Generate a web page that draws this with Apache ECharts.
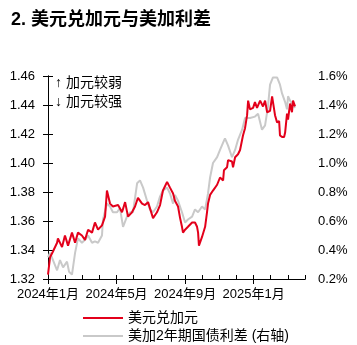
<!DOCTYPE html>
<html><head><meta charset="utf-8">
<script src="https://cdn.jsdelivr.net/npm/echarts@6/dist/echarts.min.js"></script>
<style>html,body{margin:0;padding:0;background:#fff}#c{width:357px;height:345px}</style>
</head><body><div id="c"></div>
<script>
// months since Jan 2024 (0 = 2024年1月)
const monthLabels = {0:'2024年1月',4:'2024年5月',8:'2024年9月',12:'2025年1月'};
const redT = [0.00,0.12,0.29,0.53,0.58,0.82,0.99,1.17,1.40,1.58,1.75,1.98,2.16,2.34,2.57,2.74,2.92,3.15,3.33,3.44,3.62,3.79,4.09,4.32,4.50,4.67,4.90,5.08,5.25,5.49,5.66,5.84,6.13,6.36,6.54,6.71,6.95,7.12,7.30,7.41,7.59,7.71,7.82,7.88,8.00,8.17,8.41,8.58,8.70,8.76,8.81,8.99,9.17,9.28,9.34,9.46,9.63,9.87,10.04,10.22,10.27,10.45,10.51,10.74,10.80,10.92,11.09,11.21,11.33,11.38,11.50,11.62,11.68,11.79,11.97,12.08,12.20,12.38,12.55,12.67,12.79,12.96,13.08,13.25,13.37,13.49,13.54,13.66,13.78,13.84,13.95,14.01,14.13,14.24,14.30,14.42];
const redV = [1.323,1.335,1.339,1.345,1.348,1.342,1.350,1.343,1.352,1.345,1.352,1.350,1.347,1.354,1.352,1.359,1.354,1.357,1.363,1.381,1.372,1.370,1.371,1.366,1.373,1.363,1.366,1.370,1.376,1.372,1.371,1.373,1.362,1.366,1.371,1.381,1.387,1.383,1.379,1.374,1.370,1.362,1.356,1.352,1.354,1.356,1.359,1.359,1.356,1.352,1.343,1.349,1.356,1.366,1.372,1.378,1.381,1.385,1.390,1.388,1.395,1.397,1.402,1.401,1.397,1.404,1.406,1.409,1.416,1.419,1.424,1.433,1.443,1.437,1.438,1.442,1.438,1.443,1.439,1.443,1.435,1.436,1.446,1.433,1.428,1.429,1.419,1.418,1.418,1.421,1.434,1.430,1.441,1.435,1.443,1.439];
const grayT = [0.00,0.12,0.29,0.53,0.70,0.88,1.11,1.23,1.40,1.58,1.75,1.98,2.16,2.34,2.57,2.74,2.92,3.15,3.21,3.44,3.62,3.79,4.03,4.20,4.38,4.61,4.79,4.96,5.20,5.37,5.55,5.78,5.95,6.13,6.36,6.54,6.71,6.95,7.12,7.30,7.41,7.59,7.82,8.00,8.17,8.41,8.58,8.76,8.99,9.17,9.34,9.46,9.63,9.87,10.04,10.22,10.33,10.51,10.74,10.92,11.09,11.33,11.50,11.79,12.08,12.26,12.49,12.67,12.84,12.96,13.13,13.37,13.54,13.66,13.84,13.95,14.01,14.13,14.24,14.42];
const grayV = [0.35,0.38,0.33,0.26,0.33,0.28,0.32,0.25,0.23,0.38,0.48,0.45,0.47,0.50,0.45,0.46,0.45,0.50,0.61,0.72,0.70,0.66,0.66,0.69,0.56,0.63,0.66,0.66,0.86,0.88,0.83,0.74,0.68,0.66,0.70,0.77,0.81,0.83,0.79,0.72,0.78,0.74,0.66,0.59,0.61,0.63,0.68,0.66,0.70,0.68,0.79,0.90,1.00,1.04,1.09,1.14,1.17,1.12,1.04,1.09,1.16,1.23,1.31,1.31,1.32,1.34,1.23,1.26,1.39,1.54,1.59,1.59,1.54,1.48,1.42,1.37,1.46,1.43,1.41,1.38];

const FONT = "'Liberation Sans','Noto Sans CJK SC',sans-serif";
const RED = '#E3001B', GRAY = '#C9C9C9';
const chart = echarts.init(document.getElementById('c'), null, {renderer:'canvas'});
const legendBase = {orient:'horizontal', left:78, itemWidth:40, itemHeight:2, icon:'rect',
  textStyle:{fontSize:14, color:'#000', fontFamily:FONT}};
chart.setOption({
  animation:false,
  backgroundColor:'#fff',
  title:{text:'2. 美元兑加元与美加利差', left:6, top:6,
    textStyle:{fontSize:18, fontWeight:'bold', color:'#000', fontFamily:FONT}},
  graphic:[
    {type:'text', left:55, top:76, style:{text:'↑ 加元较弱', fontSize:14, fill:'#000', fontFamily:FONT}},
    {type:'text', left:55, top:95, style:{text:'↓ 加元较强', fontSize:14, fill:'#000', fontFamily:FONT}}
  ],
  legend:[
    Object.assign({}, legendBase, {top:306, data:['美元兑加元']}),
    Object.assign({}, legendBase, {top:324, data:['美加2年期国债利差 (右轴)']})
  ],
  grid:{left:48, right:52, top:76, bottom:66, containLabel:false},
  xAxis:[
    {type:'value', min:0, max:15, interval:4,
     axisLine:{show:true, lineStyle:{color:'#000'}},
     axisTick:{show:true, inside:false, length:5, lineStyle:{color:'#000'}, customValues:[0,4,8,12]},
     axisLabel:{show:true, margin:9, fontSize:13, color:'#000', fontFamily:FONT, customValues:[0,4,8,12],
       formatter:v=>monthLabels[Math.round(v)]||''},
     splitLine:{show:false}},
    {type:'value', min:0, max:15, interval:1, position:'bottom',
     axisLine:{show:true, lineStyle:{color:'#000'}},
     axisTick:{show:true, inside:true, length:4, lineStyle:{color:'#000'}},
     axisLabel:{show:false}, splitLine:{show:false}}
  ],
  yAxis:[
    {type:'value', min:1.32, max:1.46, interval:0.02, position:'left',
     axisLine:{show:true, lineStyle:{color:'#000'}},
     axisTick:{show:true, length:5, lineStyle:{color:'#000'}},
     axisLabel:{margin:13, fontSize:13, color:'#000', fontFamily:FONT, formatter:v=>v.toFixed(2)},
     splitLine:{show:false}},
    {type:'value', min:0.2, max:1.6, interval:0.2, position:'right',
     axisLine:{show:true, lineStyle:{color:'#000'}},
     axisTick:{show:true, length:5, lineStyle:{color:'#000'}},
     axisLabel:{margin:13, fontSize:13, color:'#000', fontFamily:FONT, formatter:v=>v.toFixed(1)+'%'},
     splitLine:{show:false}}
  ],
  series:[
    {name:'美加2年期国债利差 (右轴)', type:'line', xAxisIndex:0, yAxisIndex:1, symbol:'none', z:2,
     itemStyle:{color:GRAY}, lineStyle:{width:2, color:GRAY},
     data:grayT.map((t,i)=>[t,grayV[i]])},
    {name:'美元兑加元', type:'line', xAxisIndex:0, yAxisIndex:0, symbol:'none', z:3,
     itemStyle:{color:RED}, lineStyle:{width:2, color:RED},
     data:redT.map((t,i)=>[t,redV[i]])}
  ]
});
</script></body></html>
